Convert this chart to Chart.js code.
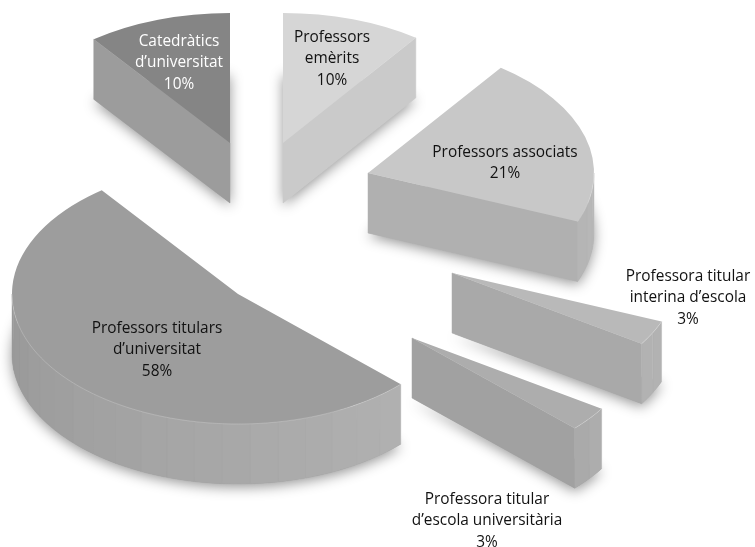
<!DOCTYPE html>
<html>
<head>
<meta charset="utf-8">
<title>Professorat</title>
<script src="https://cdn.jsdelivr.net/npm/chart.js@4/dist/chart.umd.min.js"></script>
<style>
  html, body { margin: 0; padding: 0; background: #fff; }
  canvas { display: block; }
</style>
</head>
<body>
<canvas id="pie" width="755" height="547"></canvas>
<script>
// printed labels, clockwise from 12 o'clock
const categories = ['Professors emèrits', 'Professors associats', 'Professora titular interina d’escola',
  'Professora titular d’escola universitària', 'Professors titulars d’universitat', 'Catedràtics d’universitat'];
const printedPercent = [10, 21, 3, 3, 58, 10];
// share of the circle each slice really covers in the picture (the printed figures add up to 105)
const drawnShare = [10, 21.1, 3.05, 3.05, 52.5, 10.3];

const topColors = ['#d6d6d6', '#c8c8c8', '#b9b9b9', '#adadad', '#9d9d9d', '#858585'];
const wallColors = ['#cacaca', '#b0b0b0', '#a9a9a9', '#a1a1a1', '#9d9d9d', '#9c9c9c'];
const rimColors = [['#cacaca', '#cacaca'], ['#b9b9b9', '#b4b4b4'], ['#b2b2b2', '#b2b2b2'], ['#aeaeae', '#a8a8a8'],
  ['#b1b1b1', '#989898'], ['#9c9c9c', '#9c9c9c']];

// exploded position of each slice, relative to the chart centre
const explodeX = [-94.5, -9.5, 74.5, 34.5, -139.5, -147.5];
const explodeY = [-130.5, -100.5, -0.5, 64.5, 20.5, -130.5];

const labelNames = [['Professors', 'emèrits'], ['Professors associats'],
  ['Professora titular', 'interina d’escola'], ['Professora titular', 'd’escola universitària'],
  ['Professors titulars', 'd’universitat'], ['Catedràtics', 'd’universitat']];
const labelX = [332, 505, 688, 487, 157, 179];
const labelY = [37.5, 152.5, 276.5, 499.5, 328.5, 41.5];
const labelColors = ['#111111', '#111111', '#111111', '#111111', '#111111', '#ffffff'];

const RX = 226, RY = 130, DEPTH = 60, BAND = 7 * Math.PI / 180;

function mix(c1, c2, t) {
  const a = parseInt(c1.slice(1, 3), 16), b = parseInt(c2.slice(1, 3), 16);
  const v = Math.round(a + (b - a) * t);
  return 'rgb(' + v + ',' + v + ',' + v + ')';
}

const pie3d = {
  id: 'pie3d',
  beforeDatasetsDraw(chart) {
    const ctx = chart.ctx;
    const arcs = chart.getDatasetMeta(0).data;
    // back slices first
    [5, 0, 1, 2, 3, 4].forEach(i => drawSlice(ctx, arcs[i], i));
    drawLabels(ctx);
    return false;
  }
};

function drawSlice(ctx, arc, i) {
  const s0 = arc.startAngle, s1 = arc.endAngle;
  const ox = arc.x + explodeX[i], oy = arc.y + explodeY[i];
  const pt = (a, dz) => [ox + Math.cos(a) * RX, oy + Math.sin(a) * RY + dz];
  const rimPath = (from, to, dz, n) => {
    for (let k = 0; k <= n; k++) {
      const p = pt(from + (to - from) * k / n, dz);
      ctx.lineTo(p[0], p[1]);
    }
  };

  // soft shadow from the underside
  ctx.save();
  ctx.shadowColor = 'rgba(0,0,0,0.42)';
  ctx.shadowBlur = 13;
  ctx.shadowOffsetY = 3;
  ctx.fillStyle = wallColors[i];
  ctx.beginPath();
  ctx.moveTo(ox, oy + DEPTH);
  rimPath(s0, s1, DEPTH, 60);
  ctx.closePath();
  ctx.fill();
  ctx.restore();

  // flat cut faces that look towards the viewer
  const mid = (s0 + s1) / 2;
  const mx = Math.cos(mid) * RX;
  [s0, s1].forEach(a => {
    const px = Math.cos(a) * RX, py = Math.sin(a) * RY;
    const inner = px * Math.sin(mid) * RY - py * mx;
    if (Math.abs(px) < 1 || inner * px >= 0) return;
    const p = pt(a, 0), q = pt(a, DEPTH);
    ctx.fillStyle = wallColors[i];
    ctx.strokeStyle = wallColors[i];
    ctx.lineWidth = 0.5;
    ctx.beginPath();
    ctx.moveTo(ox, oy);
    ctx.lineTo(p[0], p[1]);
    ctx.lineTo(q[0], q[1]);
    ctx.lineTo(ox, oy + DEPTH);
    ctx.closePath();
    ctx.fill();
    ctx.stroke();
  });

  // outer rim, only the part below the ellipse's widest line shows
  const from = Math.max(s0, 0), to = Math.min(s1, Math.PI);
  if (to > from) {
    const bands = Math.max(1, Math.round((to - from) / BAND));
    for (let b = 0; b < bands; b++) {
      const a0 = from + (to - from) * b / bands, a1 = from + (to - from) * (b + 1) / bands;
      const col = mix(rimColors[i][0], rimColors[i][1], (b + 0.5) / bands);
      ctx.fillStyle = col;
      ctx.strokeStyle = col;
      ctx.lineWidth = 0.4;
      ctx.beginPath();
      rimPath(a0, a1, 0, 6);
      rimPath(a1, a0, DEPTH, 6);
      ctx.closePath();
      ctx.fill();
      ctx.stroke();
    }
  }

  // top face: the library's own arc, squashed and moved into place
  ctx.save();
  ctx.translate(ox, oy);
  ctx.scale(RX / arc.outerRadius, RY / arc.outerRadius);
  ctx.translate(-arc.x, -arc.y);
  arc.draw(ctx);
  ctx.restore();

  // thin light edge where the rim meets the top
  if (to > from) {
    ctx.strokeStyle = 'rgba(255,255,255,0.35)';
    ctx.lineWidth = 0.6;
    ctx.beginPath();
    rimPath(from, to, 0, 60);
    ctx.stroke();
  }
}

function drawLabels(ctx) {
  ctx.save();
  ctx.font = '15.4px "Open Sans", sans-serif';
  ctx.textAlign = 'center';
  ctx.textBaseline = 'middle';
  labelNames.forEach((names, i) => {
    const lines = names.concat(printedPercent[i] + '%');
    ctx.fillStyle = labelColors[i];
    lines.forEach((line, n) => ctx.fillText(line, labelX[i], labelY[i] + n * 21.5));
  });
  ctx.restore();
}

new Chart(document.getElementById('pie'), {
  type: 'pie',
  data: {
    labels: categories,
    datasets: [{
      data: drawnShare,
      backgroundColor: topColors,
      borderWidth: 0
    }]
  },
  options: {
    responsive: false,
    animation: false,
    layout: { padding: 0 },
    plugins: {
      legend: { display: false },
      tooltip: { enabled: false }
    }
  },
  plugins: [pie3d]
});
</script>
</body>
</html>
